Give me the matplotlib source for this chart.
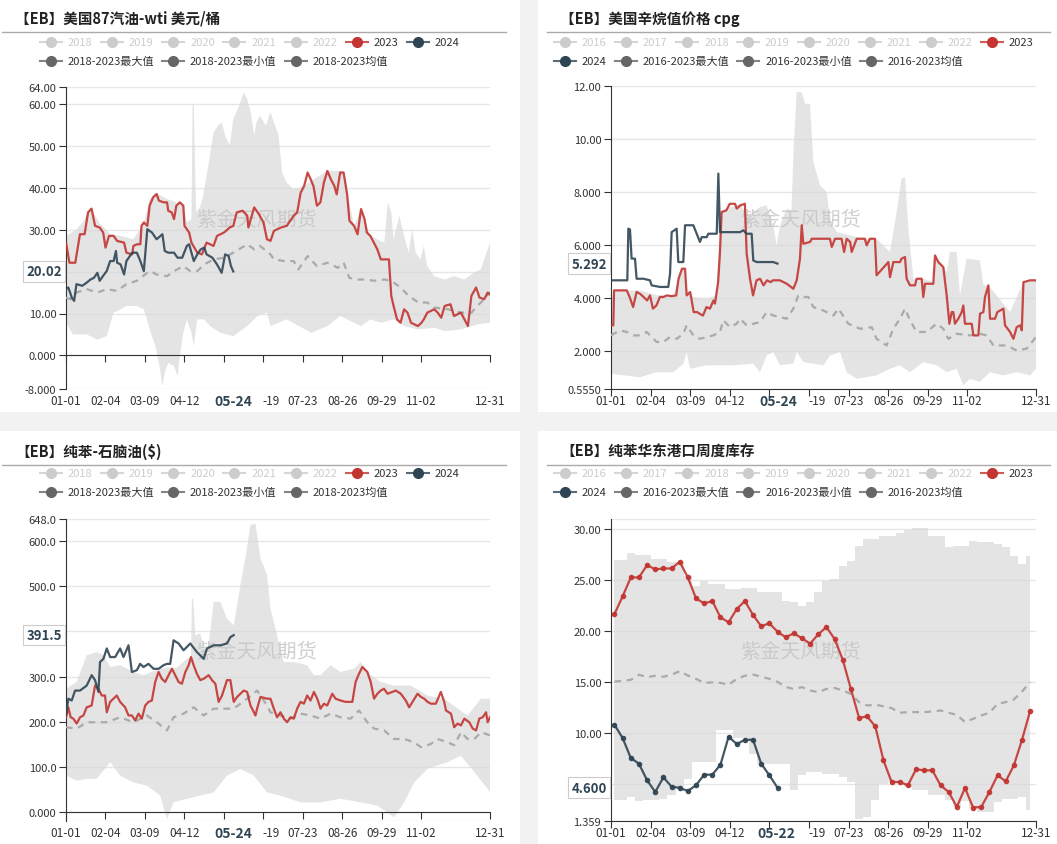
import numpy as np
import matplotlib
matplotlib.use('Agg')
import matplotlib.pyplot as plt
import matplotlib.transforms as mtransforms
from matplotlib.lines import Line2D
from matplotlib.patches import Rectangle

plt.rcParams['font.family'] = ['Noto Sans CJK SC', 'DejaVu Sans']

# ---------------- data ----------------
tick_days = [0, 34, 68, 102, 136, 170, 204, 238, 272, 306, 365]
# 05-16 is hidden behind the current-date label and 06-19 shows only as "-19"
tick_labels = ['01-01', '02-04', '03-09', '04-12', '', '-19', '07-23',
               '08-26', '09-29', '11-02', '12-31']

# panel 1: US 87 gasoline - WTI
p1_2023_d = [0, 3, 8, 12, 16, 19, 22, 25, 29, 32, 34, 37, 41, 44, 50, 52, 57, 58, 61, 64,
             65, 67, 70, 72, 75, 78, 80, 84, 87, 88, 91, 93, 95, 98, 101, 102, 106, 108, 113, 117,
             121, 127, 130, 136, 141, 144, 147, 152, 156, 157, 162, 166, 170, 173, 176, 179, 185, 190, 196, 199,
             202, 205, 208, 210, 213, 216, 219, 222, 225, 228, 231, 233, 236, 239, 242, 244, 248, 251, 254, 257,
             259, 262, 265, 268, 271, 278, 280, 282, 285, 288, 291, 294, 297, 300, 303, 306, 308, 311, 317, 320,
             323, 326, 331, 334, 340, 343, 346, 349, 353, 356, 360, 363, 365]
p1_2023_v = [26.9, 22.1, 22.1, 28.9, 28.9, 34.1, 35.0, 30.9, 30.5, 29.3, 25.7, 28.5, 28.5, 27.3, 26.9, 24.5, 24.1, 26.1, 26.5, 26.5,
             30.9, 31.7, 30.9, 35.7, 37.7, 38.5, 36.9, 36.5, 36.5, 34.5, 34.1, 32.5, 35.7, 36.5, 35.7, 30.9, 29.3, 26.9, 24.5, 24.1,
             26.9, 26.1, 28.5, 29.3, 30.5, 30.9, 34.1, 34.5, 33.3, 30.5, 35.3, 33.7, 31.7, 27.7, 27.3, 29.7, 30.5, 30.9, 33.3, 34.1,
             38.8, 40.4, 43.6, 42.4, 40.4, 35.7, 36.5, 41.2, 44.0, 42.0, 40.4, 38.4, 43.6, 43.6, 38.4, 32.1, 30.9, 28.9, 34.9, 32.5,
             29.3, 28.5, 26.9, 25.3, 22.9, 22.9, 14.2, 11.8, 8.6, 7.8, 11.0, 10.2, 7.8, 7.4, 7.0, 7.8, 8.6, 10.2, 11.0, 10.2,
             9.0, 11.8, 12.2, 9.4, 10.2, 8.6, 7.0, 14.2, 16.2, 13.8, 13.4, 15.0, 14.6]
p1_2024_d = [0, 2, 5, 7, 9, 14, 18, 21, 24, 27, 29, 32, 35, 38, 41, 43, 44, 47, 50, 52,
             57, 61, 64, 67, 70, 74, 78, 83, 85, 88, 93, 96, 100, 104, 106, 110, 113, 116, 119, 121,
             126, 130, 134, 137, 140, 142, 144]
p1_2024_v = [15.8, 16.2, 13.8, 13.0, 17.0, 16.6, 17.4, 18.1, 18.5, 19.7, 17.8, 19.0, 20.1, 22.5, 22.5, 24.9, 22.1, 21.7, 19.3, 22.5,
             24.5, 24.5, 22.5, 20.1, 30.1, 29.3, 27.7, 28.9, 24.9, 24.5, 24.5, 23.3, 23.3, 26.1, 26.5, 22.5, 24.1, 25.3, 25.7, 24.1,
             23.3, 21.7, 19.7, 24.1, 23.7, 21.3, 20.02]
p1_mean_d = [0, 4, 9, 18, 27, 35, 44, 52, 61, 70, 73, 78, 87, 93, 101, 107, 113, 119, 127, 136,
             144, 156, 162, 167, 176, 179, 188, 196, 200, 208, 216, 225, 234, 239, 244, 251, 259, 265, 274, 280,
             288, 295, 303, 311, 317, 329, 340, 349, 354, 360, 365]
p1_mean_v = [13.8, 13.4, 15.0, 15.8, 15.0, 15.8, 15.4, 17.0, 17.8, 19.7, 20.1, 19.3, 18.9, 20.1, 21.3, 20.1, 20.1, 21.7, 22.9, 23.3,
             24.5, 26.5, 25.3, 26.1, 24.1, 22.9, 22.5, 22.5, 20.5, 23.7, 21.3, 22.1, 20.9, 22.1, 18.5, 18.1, 18.1, 17.8, 18.1, 17.8,
             16.2, 14.2, 12.7, 12.6, 11.4, 11.0, 10.2, 10.2, 11.8, 13.4, 15.0]
p1_max_d = [0, 9, 15, 21, 29, 38, 47, 58, 67, 72, 78, 87, 95, 101, 104, 108, 109, 110, 112, 116,
            118, 123, 127, 131, 134, 137, 141, 144, 149, 153, 156, 159, 162, 164, 167, 172, 176, 179, 183, 186,
            190, 196, 205, 213, 225, 239, 242, 248, 254, 262, 268, 274, 277, 280, 282, 287, 291, 295, 298, 301,
            305, 308, 311, 317, 326, 334, 343, 351, 357, 363, 365]
p1_max_v = [28.5, 30.0, 32.0, 35.2, 31.5, 29.0, 28.5, 27.7, 31.5, 37.3, 38.6, 37.3, 36.5, 35.7, 31.7, 32.5, 59.9, 59.9, 34.1, 35.7,
            38.0, 46.0, 53.2, 54.8, 55.6, 52.4, 50.0, 56.4, 59.5, 62.7, 61.1, 58.0, 52.4, 55.6, 57.2, 54.8, 58.0, 55.6, 52.4, 43.6,
            41.2, 39.6, 40.4, 42.0, 44.0, 44.0, 38.8, 30.9, 34.9, 28.5, 27.7, 26.9, 36.5, 34.1, 27.7, 33.3, 28.5, 24.5, 30.1, 24.5,
            22.9, 26.1, 21.3, 18.9, 18.1, 18.9, 18.1, 19.7, 20.5, 25.3, 26.9]
p1_min_d = [0, 6, 18, 27, 35, 41, 47, 52, 61, 67, 73, 77, 81, 83, 85, 88, 93, 96, 98, 101,
            104, 108, 110, 113, 119, 124, 133, 144, 156, 165, 173, 176, 190, 211, 225, 236, 254, 262, 271, 282,
            291, 303, 317, 326, 340, 354, 365]
p1_min_v = [7.8, 5.0, 5.0, 3.8, 4.6, 10.2, 11.0, 11.8, 11.8, 11.0, 5.4, 2.2, -3.3, -7.3, -4.1, -1.8, -2.5, -4.9, -0.2, 5.4,
            8.6, 5.4, 2.2, 8.6, 8.6, 7.0, 5.4, 4.6, 7.0, 9.4, 10.2, 7.0, 8.6, 5.4, 7.0, 9.4, 7.0, 8.6, 7.8, 8.6,
            7.0, 6.2, 6.6, 5.8, 6.2, 7.4, 7.8]

# panel 2: US alkylate value, cpg
p2_2023_d = [0, 2, 2.6, 8, 13.5, 16, 19, 22, 25, 28, 31, 33.5, 36, 39, 42, 45, 48, 52, 56, 58,
             61, 63.6, 65, 68, 71, 74, 76, 79, 82, 85, 88, 89.3, 92, 93.6, 95, 99, 102, 106.5, 108, 111,
             115, 116.5, 119.4, 122, 125, 128, 131, 134, 137, 139, 145, 151, 156.6, 159.5, 162.3, 163.8, 165.2, 171, 172.4, 188,
             189.6, 192.4, 198, 200.2, 202.4, 205.4, 206.7, 211, 218, 219.6, 222.4, 226.7, 228.1, 238.2, 239.6, 242.5, 248.2, 249.6, 252.5, 253.9,
             256.8, 261.1, 262.5, 266.8, 268.2, 269.7, 276.8, 278.3, 281.1, 285.4, 288.3, 290.6, 292.6, 294, 295.4, 298.3, 301.2, 302.6, 304, 309.8,
             311.2, 315.5, 316.9, 319.8, 321.2, 324.1, 325.5, 329.8, 331.8, 337, 338.4, 342.7, 345.6, 348.4, 351.3, 352.8, 354.2, 359.9, 365]
p2_2023_v = [2.96, 2.96, 4.28, 4.28, 4.28, 4.03, 3.65, 4.22, 4.15, 4.03, 3.90, 4.09, 3.59, 3.71, 4.03, 4.03, 4.09, 4.06, 4.09, 4.72,
             5.10, 5.10, 4.09, 4.22, 3.46, 3.46, 3.40, 3.33, 3.65, 3.59, 3.90, 3.78, 4.59, 5.73, 7.24, 7.30, 7.55, 7.55, 7.37, 7.49,
             7.55, 5.67, 4.72, 4.09, 4.66, 4.72, 4.47, 4.66, 4.59, 4.66, 4.66, 4.53, 4.34, 4.66, 5.48, 6.74, 6.04, 6.11, 6.23, 6.23,
             5.92, 6.23, 6.23, 5.73, 6.23, 6.11, 5.73, 6.23, 6.23, 5.98, 6.23, 6.23, 4.85, 5.35, 4.78, 5.35, 5.35, 5.48, 5.54, 4.72,
             4.47, 4.47, 4.72, 4.72, 4.03, 4.53, 4.53, 5.60, 5.35, 5.16, 4.09, 3.02, 3.46, 3.46, 3.02, 3.21, 3.46, 3.71, 3.02, 3.02,
             2.58, 2.58, 3.40, 3.46, 4.03, 4.47, 3.21, 3.21, 3.46, 3.59, 2.96, 2.71, 2.45, 2.89, 2.96, 2.77, 4.59, 4.66, 4.66]
p2_2024_d = [0, 14, 14.9, 16.3, 17.7, 20.6, 22, 27.8, 33.5, 34.9, 42, 49.2, 50.7, 52.1, 56.4, 57.8, 62.1, 63.6, 70.7, 73.6,
             76.4, 77.9, 82.2, 83.6, 90.8, 92.2, 93.6, 110.8, 113.7, 116.5, 120.8, 122.2, 125.1, 139.4, 143]
p2_2024_v = [4.66, 4.66, 6.61, 6.58, 5.48, 5.48, 4.72, 4.72, 4.66, 4.47, 4.41, 4.41, 4.91, 6.48, 6.61, 5.35, 5.35, 6.74, 6.74, 6.42,
             6.11, 6.29, 6.29, 6.42, 6.42, 8.69, 6.48, 6.48, 6.55, 6.42, 6.42, 5.41, 5.35, 5.35, 5.292]
p2_mean_d = [0, 7.7, 13.5, 19.2, 24.9, 30.6, 33.5, 39.2, 44.9, 50.7, 56.4, 62.1, 65, 70.7, 76.4, 82.2, 87.9, 93.6, 96.5, 102.2,
             107.9, 110.8, 116.5, 122.2, 128, 133.7, 139.4, 145.1, 150.9, 156.6, 160.9, 165.2, 169.5, 173.8, 182.4, 191, 195.3, 203.8, 213.9, 223.9,
             228.1, 236.7, 242.5, 248.2, 252.5, 256.8, 262.5, 271.1, 279.7, 285.4, 289.7, 296.8, 308.3, 316.9, 322.6, 328.4, 339.8, 348.4, 357, 365]
p2_mean_v = [2.58, 2.77, 2.71, 2.58, 2.58, 2.71, 2.58, 2.33, 2.33, 2.52, 2.45, 2.64, 2.96, 2.58, 2.45, 2.52, 2.58, 2.71, 3.15, 2.89,
             3.02, 3.21, 2.96, 3.02, 3.08, 3.46, 3.33, 3.27, 3.21, 3.59, 4.09, 4.03, 4.03, 3.65, 3.52, 3.33, 3.59, 3.02, 2.83, 2.89,
             2.45, 2.20, 2.83, 3.21, 3.59, 3.15, 2.71, 2.71, 3.02, 2.83, 2.45, 2.64, 2.58, 2.64, 2.58, 2.20, 2.20, 2.01, 2.08, 2.52]
p2_max_d = [0, 2.6, 13.5, 24.9, 39.2, 53.5, 57.8, 60.7, 63.6, 65, 70.7, 82.2, 90.8, 93.6, 99.3, 110.8, 116.5, 122.2, 128, 133.7,
            139.4, 142.3, 145.1, 150.9, 155, 157, 159.5, 163.8, 166.6, 170.9, 173.8, 179.5, 185.2, 188.1, 193.8, 205.4, 216.8, 228.1, 239.6, 245.3,
            249.6, 252.5, 255.4, 259.7, 268.2, 276.8, 278.3, 285.4, 288.3, 291.1, 296.8, 299.7, 305.4, 316.9, 319.8, 324.1, 331.2, 342.7, 354.2, 365]
p2_max_v = [3.90, 4.28, 4.28, 4.28, 4.10, 4.09, 4.72, 5.10, 5.10, 4.22, 4.03, 3.97, 4.09, 7.24, 7.37, 7.55, 7.11, 7.24, 7.43, 7.49,
            6.74, 5.98, 6.74, 7.37, 7.3, 9.76, 11.77, 11.77, 11.33, 11.33, 9.13, 8.25, 8.0, 6.99, 6.48, 6.36, 6.23, 6.23, 5.73, 7.24,
            8.50, 8.56, 6.61, 4.72, 4.72, 4.59, 5.60, 5.16, 4.97, 5.73, 5.73, 4.09, 5.48, 5.41, 4.47, 4.47, 4.09, 3.46, 4.59, 4.66]
p2_min_d = [0, 24.9, 39.2, 53.5, 62.1, 65, 67.9, 82.2, 93.6, 105.1, 122.2, 128, 133.7, 139.4, 145.1, 156.6, 159.5, 165.2, 182.4, 188.1,
            196.7, 202.4, 211, 228.1, 239.6, 248.2, 256.8, 268.2, 279.7, 288.3, 296.8, 302.6, 308.3, 316.9, 325.5, 337, 348.4, 359.9, 365]
p2_min_v = [1.13, 1.0, 1.19, 1.19, 1.51, 1.95, 1.32, 1.45, 1.45, 1.45, 1.51, 1.19, 1.82, 1.95, 1.45, 1.51, 1.95, 1.57, 1.45, 1.82,
            1.95, 1.19, 0.94, 1.07, 1.32, 1.45, 1.19, 1.57, 1.45, 1.19, 1.32, 0.69, 0.94, 0.82, 1.19, 1.07, 1.19, 1.07, 1.32]

# panel 3: benzene - naphtha ($)
p3_2023_d = [0, 2, 4, 6.3, 9.2, 12.1, 15, 17.8, 22.1, 25, 27.9, 30.8, 33.6, 35.1, 38, 40.8, 43.7, 46.6, 50.9, 53.8,
             56.7, 59.5, 62.4, 65.3, 68.2, 71, 73.9, 76.8, 79.7, 82.5, 85.4, 88.3, 91.2, 94, 96.9, 99.8, 102.7, 105.6, 107.6, 109.9,
             112.7, 115.6, 118.5, 122.8, 125.7, 128.6, 131.4, 134.3, 138.6, 141.5, 144.4, 147.3, 153, 155.9, 158.8, 163.1, 164.5, 167.4, 173.1, 176,
             178.9, 181.7, 184.6, 187.5, 190.4, 193.2, 196.1, 199, 201.9, 204.8, 207.6, 210.5, 213.4, 216.3, 219.1, 222, 224.9, 229.2, 232.1, 236.4,
             240.7, 246.5, 249.3, 252.2, 255.1, 259.4, 262.3, 265.2, 268, 270.9, 273.8, 276.7, 281, 283.9, 288.2, 292.5, 295.4, 298.3, 302.6, 305.5,
             308.4, 311.2, 314.1, 318.4, 322.7, 325.6, 327.1, 331.4, 334.2, 337.1, 340, 342.9, 347.2, 350.1, 353, 355.8, 358.7, 361.6, 363, 365]
p3_2023_v = [210, 232, 210, 207, 196, 210, 214, 232, 236, 280, 273, 258, 258, 221, 244, 251, 258, 244, 232, 214,
             214, 203, 218, 207, 236, 244, 247, 288, 310, 295, 288, 303, 317, 303, 288, 284, 310, 325, 343, 325,
             306, 292, 295, 303, 292, 284, 244, 258, 292, 292, 244, 255, 269, 266, 236, 214, 229, 255, 251, 251,
             229, 210, 221, 207, 199, 210, 207, 229, 244, 240, 258, 247, 266, 251, 229, 240, 236, 262, 251, 247,
             244, 244, 288, 306, 321, 310, 288, 251, 262, 269, 273, 262, 266, 269, 262, 247, 232, 244, 262, 255,
             251, 244, 240, 240, 266, 244, 225, 218, 188, 196, 192, 207, 199, 185, 181, 207, 210, 221, 199, 210]
p3_2024_d = [0, 2, 4.9, 7.8, 12.1, 17.8, 22.1, 25, 27.9, 29.3, 32.2, 35.1, 38, 42.3, 46.6, 49.5, 53.8, 56.7, 61, 63.8,
             66.7, 71, 75.4, 79.7, 84, 86.9, 89.7, 92.6, 96.9, 101.2, 107, 112.7, 118.5, 121.4, 127.1, 132.9, 138.6, 141.5, 144.4]
p3_2024_v = [214, 251, 247, 269, 269, 280, 303, 292, 266, 332, 339, 362, 343, 343, 362, 343, 369, 310, 314, 328,
             321, 328, 317, 317, 325, 328, 328, 380, 373, 358, 373, 354, 339, 362, 369, 369, 373, 387, 391.5]
p3_mean_d = [0, 9.2, 17.8, 26.5, 35.1, 46.6, 58.1, 69.6, 78.2, 86.9, 92.6, 101.2, 109.9, 118.5, 127.1, 135.8, 144.4, 155.9, 164.5, 173.1,
             176, 184.6, 193.2, 201.9, 210.5, 219.1, 227.8, 236.4, 245, 252.2, 259.4, 265.2, 273.8, 282.4, 291.1, 299.7, 305.5, 314.1, 319.8, 328.5,
             334.2, 340, 345.7, 351.5, 357.3, 365]
p3_mean_v = [188, 185, 199, 199, 199, 210, 199, 214, 199, 181, 210, 218, 232, 214, 229, 229, 229, 251, 269, 236,
             221, 214, 207, 218, 214, 207, 218, 210, 207, 225, 199, 185, 181, 162, 162, 155, 144, 151, 162, 155,
             148, 177, 162, 162, 177, 170]
p3_max_d = [0, 9.2, 17.8, 26.5, 32.2, 38, 46.6, 58.1, 66.7, 75.4, 86.9, 95.5, 104.1, 107.6, 108.4, 109.5, 111.3, 115.6, 121.4, 127.1,
            132.9, 138.6, 144.4, 150.1, 154.4, 158.8, 163.1, 167.4, 173.1, 176, 181.7, 187.5, 196.1, 207.6, 213.4, 219.1, 227.8, 236.4, 247.9, 253.6,
            262.3, 270.9, 282.4, 296.8, 311.2, 325.6, 337.1, 345.7, 357.3, 365]
p3_max_v = [273, 288, 347, 354, 347, 321, 325, 310, 303, 312, 320, 320, 339, 343, 472, 472, 391, 395, 339, 465,
            465, 428, 413, 502, 561, 635, 638, 561, 524, 450, 391, 332, 332, 325, 303, 303, 325, 310, 317, 332,
            303, 288, 280, 280, 258, 251, 229, 214, 251, 251]
p3_min_d = [0, 9.2, 17.8, 26.5, 38, 46.6, 58.1, 69.6, 81.1, 86.9, 92.6, 104.1, 115.6, 127.1, 138.6, 150.1, 161.6, 173.1, 184.6, 201.9,
            219.1, 236.4, 253.6, 268, 282.4, 291.1, 299.7, 311.2, 328.5, 340, 351.5, 363, 365]
p3_min_v = [81, 70, 74, 74, 111, 81, 66, 59, 37, -15, 22, 30, 37, 44, 81, 96, 81, 44, 37, 22,
            22, 30, 22, 15, -11, 22, 66, 96, 111, 125, 89, 52, 44]

# panel 4: benzene East China port weekly inventory (weekly points)
p4_week_d = np.arange(3, 361, 7)
p4_2023 = [21.67, 23.40, 25.26, 25.26, 26.47, 26.05, 26.14, 26.14, 26.80, 25.26,
           23.20, 22.71, 22.94, 21.34, 20.85, 22.16, 22.94, 21.57, 20.46, 20.75,
           19.93, 19.38, 19.77, 19.28, 18.76, 19.67, 20.39, 19.22, 17.19, 14.31,
           11.47, 11.60, 10.62, 7.29, 5.16, 5.16, 4.84, 6.41, 6.31, 6.31,
           4.84, 4.18, 2.71, 4.58, 2.65, 2.71, 4.18, 5.82, 5.23, 6.80,
           9.31, 12.16]
p4_2024 = [10.78, 9.48, 7.52, 6.96, 5.33, 4.18, 5.62, 4.71, 4.58, 4.28,
           4.84, 5.88, 5.88, 6.86, 9.61, 8.89, 9.31, 9.31, 6.96, 5.82, 4.60]
p4_mean = [15.03, 15.1, 15.2, 15.7, 15.46, 15.6, 15.5, 15.7, 16.05, 15.62,
           15.3, 14.9, 14.95, 14.9, 14.71, 15.3, 15.6, 15.72, 15.5, 15.3,
           15.0, 14.5, 14.3, 14.48, 14.15, 13.99, 14.3, 14.4, 14.15, 13.82,
           13.01, 12.68, 12.75, 12.6, 12.42, 11.96, 12.03, 12.03, 12.03, 12.09,
           12.19, 11.96, 11.76, 11.05, 11.37, 11.70, 11.96, 12.84, 13.01, 13.27,
           14.05, 14.97]
p4_max = [26.96, 26.96, 27.7, 27.5, 27.45, 27.1, 27.06, 26.8, 26.8, 25.4,
          24.44, 24.9, 24.6, 24.6, 24.12, 24.12, 24.2, 24.2, 23.8, 23.8,
          23.8, 22.97, 22.8, 22.5, 22.8, 23.8, 24.9, 25.1, 26.4, 26.9,
          28.37, 29.08, 29.08, 29.35, 29.35, 29.67, 29.9, 30.07, 30.07, 29.35,
          29.35, 28.2, 28.37, 28.37, 28.79, 28.76, 28.76, 28.5, 28.2, 27.4,
          26.6, 27.4]
p4_min = [3.43, 3.43, 3.69, 3.27, 3.37, 3.37, 3.46, 3.86, 4.67, 5.49,
          7.12, 7.12, 7.12, 10.23, 10.23, 9.48, 9.48, 7.94, 6.96, 6.96,
          6.96, 6.96, 4.35, 5.82, 6.14, 6.14, 5.98, 5.98, 5.65, 5.16,
          1.57, 1.73, 3.37, 5.0, 5.16, 5.16, 4.67, 4.35, 4.35, 3.86,
          3.86, 3.37, 2.71, 3.27, 2.65, 2.22, 2.22, 3.2, 3.53, 3.53,
          3.69, 2.39]

# ---------------- style ----------------
W, H = 1057, 845
RED = '#c23531'
NAVY = '#2f4554'
BAND = '#d9d9d9'
MEAN = '#aaaaaa'
GRID = '#e6e6e6'
TXT = '#333333'

fig = plt.figure(figsize=(W / 100, H / 100), dpi=100, facecolor='#f2f2f2')

for l, t, r, b in [(0, 0, 520, 413), (538, 0, 1057, 413), (0, 432, 520, 845), (538, 432, 1057, 845)]:
    fig.add_artist(Rectangle((l / W, 1 - b / H), (r - l) / W, (b - t) / H, transform=fig.transFigure,
                             facecolor='white', edgecolor='none', zorder=-5))


def header(x, y, title, rule_x):
    fig.text(x / W, 1 - y / H, title, fontsize=10.5, fontweight='bold', color='#222222', va='center')
    fig.add_artist(Line2D([rule_x[0] / W, rule_x[1] / W], [1 - (y + 14) / H] * 2, color='#aaaaaa', lw=1))


def legend_item(tx, ty, label, color, tcolor):
    y = 1 - ty / H
    fig.add_artist(Line2D([(tx - 28) / W, (tx - 6) / W], [y, y], color=color, lw=1.5, alpha=0.8))
    fig.add_artist(Line2D([(tx - 17) / W], [y], marker='o', ms=7, color=color, ls='none'))
    fig.text(tx / W, y, label, fontsize=8, color=tcolor, va='center', ha='left')


def legend(xs1, labels1, xs2, labels2, y1, y2):
    for tx, lab in zip(xs1, labels1):
        if lab == '2023':
            legend_item(tx, y1, lab, RED, TXT)
        elif lab == '2024':
            legend_item(tx, y1, lab, NAVY, TXT)
        else:
            legend_item(tx, y1, lab, '#cccccc', '#cccccc')
    for tx, lab in zip(xs2, labels2):
        if lab == '2024':
            legend_item(tx, y2, lab, NAVY, TXT)
        else:
            legend_item(tx, y2, lab, '#666666', TXT)


def make_axes(l, t, r, b, ylim, yticks, ylabels, axis_y, extra_grid, hl_day, hl_text, val, val_text, wm):
    ax = fig.add_axes([l / W, 1 - b / H, (r - l) / W, (b - t) / H])
    ax.set_facecolor('none')
    ax.set_xlim(0, 365)
    ax.set_ylim(*ylim)
    for s in ['top', 'right']:
        ax.spines[s].set_visible(False)
    ax.spines['left'].set_color(TXT)
    ax.spines['bottom'].set_color(TXT)
    ax.spines['bottom'].set_position(('data', axis_y))
    ax.spines['bottom'].set_zorder(6)
    ax.set_yticks(yticks)
    ax.set_yticklabels(ylabels)
    ax.tick_params(axis='y', direction='out', length=5, color=TXT, labelsize=8, labelcolor=TXT, pad=2)
    ax.set_xticks(tick_days)
    ax.set_xticklabels([])
    ax.tick_params(axis='x', direction='out', length=5, color=TXT)
    for v in list(yticks) + list(extra_grid):
        ax.axhline(v, color=GRID, lw=1, zorder=0)
    hpx = b - t
    wpx = r - l
    tr = mtransforms.blended_transform_factory(ax.transData, ax.transAxes)
    for d, lab in zip(tick_days, tick_labels):
        if not lab:
            continue
        if lab.startswith('-'):
            ax.text(d - 0.5, -12 / hpx, lab, transform=tr, ha='left', va='center', fontsize=8.5, color=TXT,
                    clip_on=False)
        else:
            ax.text(d, -12 / hpx, lab, transform=tr, ha='center', va='center', fontsize=8.5, color=TXT,
                    clip_on=False)
    ax.text(hl_day, -12 / hpx, hl_text, transform=tr, ha='center', va='center', fontsize=10,
            fontweight='bold', color=NAVY, clip_on=False, zorder=10)
    tr2 = mtransforms.blended_transform_factory(ax.transAxes, ax.transData)
    ax.text(-4 / wpx, val, val_text, transform=tr2, ha='right', va='center', fontsize=9.5, fontweight='bold',
            color=NAVY, clip_on=False, zorder=10,
            bbox=dict(boxstyle='square,pad=0.25', fc='white', ec='#cccccc', lw=0.8))
    ax.text(wm[0] / W, 1 - wm[1] / H, '紫金天风期货', transform=fig.transFigure, fontsize=14.5, color='#c4c4c4',
            alpha=0.8, ha='center', va='center', zorder=2)
    return ax


def band(ax, ud, uv, ld, lv):
    ax.fill(np.concatenate([ud, ld[::-1]]), np.concatenate([uv, lv[::-1]]), color=BAND, alpha=0.7, lw=0, zorder=1)


# ---------------- panel 1 ----------------
header(15, 19, '【EB】美国87汽油-wti 美元/桶', (2, 506))
legend([67.7, 129, 190.3, 251.3, 312.5, 373.5, 434.5], ['2018', '2019', '2020', '2021', '2022', '2023', '2024'],
       [67.7, 190, 313], ['2018-2023最大值', '2018-2023最小值', '2018-2023均值'], 43, 62)
ax1 = make_axes(66, 88, 490, 390, (-8, 64), [64, 60, 50, 40, 30, 20, 10, 0, -8],
                ['64.00', '60.00', '50.00', '40.00', '30.00', '', '10.00', '0.000', '-8.000'], 0, [],
                144, '05-24', 20.02, '20.02', (257, 220))
band(ax1, np.array(p1_max_d), np.array(p1_max_v), np.array(p1_min_d), np.array(p1_min_v))
ax1.plot(p1_mean_d, p1_mean_v, color=MEAN, lw=1.6, ls=(0, (3, 2.5)), zorder=3)
ax1.plot(p1_2023_d, p1_2023_v, color=RED, lw=1.6, alpha=0.9, zorder=4)
ax1.plot(p1_2024_d, p1_2024_v, color=NAVY, lw=1.6, alpha=0.9, zorder=4)

# ---------------- panel 2 ----------------
header(560, 19, '【EB】美国辛烷值价格 cpg', (547, 1050))
legend([582, 643, 704.3, 765, 826, 887, 948, 1008.7],
       ['2016', '2017', '2018', '2019', '2020', '2021', '2022', '2023'],
       [582, 643, 765.3, 888], ['2024', '2016-2023最大值', '2016-2023最小值', '2016-2023均值'], 43, 62)
ax2 = make_axes(611, 87, 1036, 390, (0.555, 12), [12, 10, 8, 6, 4, 2, 0.555],
                ['12.00', '10.00', '8.000', '6.000', '4.000', '2.000', '0.5550'], 0.555, [],
                144, '05-24', 5.292, '5.292', (801, 220))
band(ax2, np.array(p2_max_d), np.array(p2_max_v), np.array(p2_min_d), np.array(p2_min_v))
ax2.plot(p2_mean_d, p2_mean_v, color=MEAN, lw=1.6, ls=(0, (3, 2.5)), zorder=3)
ax2.plot(p2_2023_d, p2_2023_v, color=RED, lw=1.6, alpha=0.9, zorder=4)
ax2.plot(p2_2024_d, p2_2024_v, color=NAVY, lw=1.6, alpha=0.9, zorder=4)

# ---------------- panel 3 ----------------
header(15, 452, '【EB】纯苯-石脑油($)', (2, 506))
legend([67.7, 129, 190.3, 251.3, 312.5, 373.5, 434.5], ['2018', '2019', '2020', '2021', '2022', '2023', '2024'],
       [67.7, 190, 313], ['2018-2023最大值', '2018-2023最小值', '2018-2023均值'], 474, 493)
ax3 = make_axes(66, 520, 490, 821.7, (-18.5, 648), [648, 600, 500, 400, 300, 200, 100, 0],
                ['648.0', '600.0', '500.0', '', '300.0', '200.0', '100.0', '0.000'], 0, [-18.5],
                144, '05-24', 391.5, '391.5', (257, 653))
band(ax3, np.array(p3_max_d), np.array(p3_max_v), np.array(p3_min_d), np.array(p3_min_v))
ax3.plot(p3_mean_d, p3_mean_v, color=MEAN, lw=1.6, ls=(0, (3, 2.5)), zorder=3)
ax3.plot(p3_2023_d, p3_2023_v, color=RED, lw=1.6, alpha=0.9, zorder=4)
ax3.plot(p3_2024_d, p3_2024_v, color=NAVY, lw=1.6, alpha=0.9, zorder=4)

# ---------------- panel 4 ----------------
header(560, 452, '【EB】纯苯华东港口周度库存', (547, 1050))
legend([582, 643, 704.3, 765, 826, 887, 948, 1008.7],
       ['2016', '2017', '2018', '2019', '2020', '2021', '2022', '2023'],
       [582, 643, 765.3, 888], ['2024', '2016-2023最大值', '2016-2023最小值', '2016-2023均值'], 474, 493)
ax4 = make_axes(611, 520, 1036, 821.7, (1.359, 31.0), [30, 25, 20, 15, 10, 5, 1.359],
                ['30.00', '25.00', '20.00', '15.00', '10.00', '', '1.359'], 1.359, [31.0],
                142, '05-22', 4.6, '4.600', (801, 653))
ax4.fill_between(p4_week_d, p4_min, p4_max, step='mid', color=BAND, alpha=0.7, lw=0, zorder=1)
ax4.plot(p4_week_d, p4_mean, color=MEAN, lw=1.6, ls=(0, (3, 2.5)), zorder=3)
ax4.plot(p4_week_d, p4_2023, color=RED, lw=1.6, alpha=0.9, marker='o', ms=3, zorder=4)
ax4.plot(p4_week_d[:len(p4_2024)], p4_2024, color=NAVY, lw=1.6, alpha=0.9, marker='o', ms=3, zorder=4)

fig.savefig('out.png', dpi=100, facecolor=fig.get_facecolor())
